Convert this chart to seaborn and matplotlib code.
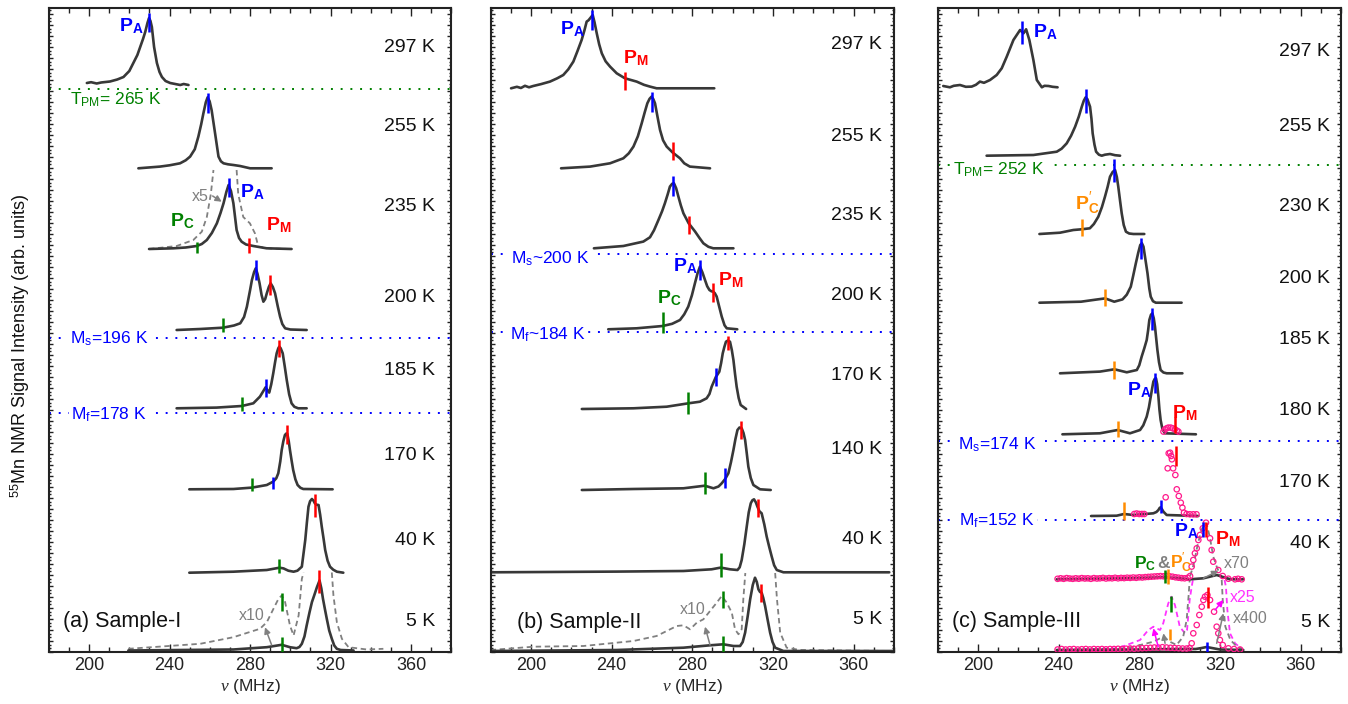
import numpy as np
import matplotlib
matplotlib.use("Agg")
import matplotlib.pyplot as plt
from matplotlib.ticker import MultipleLocator, AutoMinorLocator
import seaborn as sns

sns.set_style("ticks")
plt.rcParams["font.family"] = ["Liberation Sans", "DejaVu Sans"]
plt.rcParams["mathtext.fontset"] = "custom"
plt.rcParams["mathtext.rm"] = "Liberation Sans"
plt.rcParams["mathtext.bf"] = "Liberation Sans:bold"
plt.rcParams["mathtext.it"] = "Liberation Serif:italic"

CURVE = "#383838"
COL = {"b": "#0000ff", "g": "#008000", "r": "#ff0000", "o": "#ff8c00",
       "k": "#808080", "m": "#ff33ff", "p": "#ff1a8c"}

# ---------------- panel (a) Sample-I ----------------
A_TEMPS = ["297 K", "255 K", "235 K", "200 K", "185 K", "170 K", "40 K", "5 K"]
A_TEMP_Y = [604.7, 525.3, 445.3, 354.3, 281.3, 197, 111.3, 30.3]
A_BASE = [567, 483.7, 403, 322, 243.7, 162.7, 79.3, 1.5]

A297_F = [198.9, 201, 203.8, 206, 210.4, 214, 217.1, 220, 222.0, 224, 225.4, 226.8, 227.9, 229, 229.8, 230.5, 231.2, 232.3, 233.7, 235, 236.2, 238, 240.3, 245.3, 247, 249.4]
A297_I = [2, 2.8, 1.5, 2.5, 3.5, 5.5, 8, 14, 22, 30, 38, 46, 53, 62, 67, 64, 58, 38, 22, 13, 8, 4, 2, 0, 1, 0]
A255_F = [224.5, 235.2, 240, 245.2, 248, 250.2, 252.5, 254.3, 255.7, 256.8, 258, 258.9, 259.9, 260.9, 262.6, 264.3, 265.5, 266.8, 269, 271.7, 275.0, 280, 290.7]
A255_I = [0, 1.7, 3, 5, 8, 11.7, 19, 31.7, 44, 55, 66, 71, 67, 58, 35, 11.7, 7, 5, 4, 3.3, 2.3, 0, 0]
A235_F = [229.8, 241.9, 248, 253.5, 256, 258.5, 261, 263.5, 265.3, 266.8, 268.2, 269.3, 270.5, 271.7, 273.3, 274.5, 275.8, 278, 281.6, 288.2, 300.6]
A235_I = [0, 0.7, 1.5, 3, 5, 9, 16, 25.7, 36, 45.7, 57, 64, 58, 45.7, 19, 11, 7.3, 4.5, 3, 0.7, 0]
A200_F = [243.5, 255.2, 266.5, 272, 275.1, 277, 278.4, 280, 280.9, 282, 282.8, 283.7, 284.7, 285.7, 286.6, 287.5, 288.3, 289.3, 290.2, 291.3, 292.4, 293.7, 294.9, 296, 297.4, 300, 308.1]
A200_I = [0, 1, 2.3, 4.5, 6.7, 13, 23.3, 40, 50, 58, 61.7, 56, 46.7, 35, 28.3, 31, 36.7, 43, 46.7, 43, 36.7, 24, 13.3, 6, 1.7, 0.5, 0]
A185_F = [243.5, 263.3, 275.9, 281.6, 284.9, 286.5, 287.7, 288.6, 289.5, 290.5, 291.5, 292.4, 293.2, 294, 294.5, 295.2, 296.2, 297.2, 298.2, 299.4, 300.6, 302, 303.9, 308.1]
A185_I = [0, 0.7, 2.3, 5, 11.7, 17, 21, 18, 15.7, 24, 35, 46, 55, 60, 61.7, 60, 55, 42, 28.3, 14, 5, 1.5, 0, 0]
A170_F = [249.8, 271.7, 281, 288.3, 291.5, 293, 294, 295, 295.7, 296.5, 297.3, 298, 298.5, 299.2, 299.8, 300.6, 301.4, 302.5, 303.6, 305, 306.4, 321]
A170_I = [0, 0.3, 1.7, 4.3, 7.7, 11, 16, 28, 39.3, 48, 54.3, 55.8, 55.3, 48, 39.3, 29, 19.3, 10, 4.3, 1.5, 0.3, 0]
A40_F = [249.8, 271.7, 288.3, 294.6, 296.6, 299, 301.6, 303.5, 305.7, 307.4, 308.2, 309, 309.8, 310.7, 311.5, 312.2, 313, 314, 314.8, 315.6, 316.5, 317.3, 318.5, 319.7, 321.3, 323.1, 326.3]
A40_I = [0, 1, 2.7, 5, 4.3, 2, 1, 2, 6, 32.7, 50, 66, 71.5, 73.7, 72, 69.3, 68, 67.7, 58, 46, 34, 22.7, 12, 6, 3, 1, 0]
A5_F = [219.5, 271.7, 288.3, 295.7, 299.8, 303.1, 304.5, 305.7, 307, 308.1, 309.5, 310.7, 312, 313.2, 314.5, 315.4, 316.2, 317.2, 318.1, 319.3, 320.6, 321.8, 323.1, 325, 331.4]
A5_I = [0, 1, 3.3, 5.7, 3.3, 2.3, 3.5, 6.7, 14, 25, 38, 48.3, 56, 63.3, 70, 62, 51.7, 41, 31.7, 20, 11.7, 5, 1.7, 0.5, 0]
# magnified (dashed) traces
A235X5_LF = [229.8, 243.5, 251.8, 256, 258.5, 260.5, 261.8]
A235X5_LI = [0, 3, 9, 17.3, 32, 55, 79]
A235X5_RF = [273.3, 274.1, 276.6, 279.9, 282.4, 284.1, 290, 300.6]
A235X5_RI = [79, 55, 32, 25.7, 15.7, 2.3, 0.5, 0]
A5X10_LF = [219.5, 255.2, 271.7, 284.9, 288.3, 291.6, 294.1, 295.7, 297.4, 299.8, 301.6, 304.1, 305.7, 306.6]
A5X10_LI = [1.7, 6.7, 13.3, 21.7, 28.3, 41.7, 51.7, 55, 48.3, 25, 15, 35, 71.7, 78]
A5X10_RF = [320.6, 321.4, 323.1, 325.6, 328.9, 338, 346.2]
A5X10_RI = [78, 55, 28.3, 11.7, 3.3, 1, 1.7]

A_MK_F = [229.8, 258.9, 269.3, 253.6, 279.3, 282.8, 290.0, 266.3, 294.5, 287.7, 275.9, 298.1, 291.4, 281, 312.2, 294.5, 314.3, 295.7, 295.7]
A_MK_Y = [629.8, 549.3, 464.8, 404.8, 406.5, 382, 367, 327, 303.7, 264, 248, 217.5, 168.7, 167.3, 146.7, 85.7, 70.3, 7.5, 50]
A_MK_H = [9.5, 10, 9.5, 5.5, 7.2, 10, 10, 6.7, 8.3, 8.7, 6.7, 9.5, 6, 6.7, 11.3, 7, 11.7, 7.2, 8.7]
A_MK_C = ["b", "b", "b", "g", "r", "b", "r", "g", "r", "b", "g", "r", "b", "g", "r", "g", "r", "g", "g"]

A_LINE_Y = [562.7, 314.3, 239.3]
A_LINE_C = ["g", "b", "b"]
A_LINE_TXT = [r"T$_\mathrm{PM}$= 265 K", r"M$_\mathrm{s}$=196 K", r"M$_\mathrm{f}$=178 K"]
A_LINE_TX = [190.5, 190.5, 191]
A_LINE_TY = [547, 308, 232]

A_LAB_TXT = [r"$\mathbf{P}_\mathbf{A}$", r"$\mathbf{P}_\mathbf{A}$", r"$\mathbf{P}_\mathbf{M}$", r"$\mathbf{P}_\mathbf{C}$"]
A_LAB_X = [214.9, 275, 288, 240.3]
A_LAB_Y = [621, 455, 422, 426]
A_LAB_C = ["b", "b", "r", "g"]
A_LAB_S = [14, 14, 14, 14]

# ---------------- panel (b) Sample-II ----------------
B_TEMPS = ["297 K", "255 K", "235 K", "200 K", "170 K", "140 K", "40 K", "5 K"]
B_TEMP_Y = [607.7, 515.3, 437, 357, 277, 202, 113, 32.7]
B_BASE = [563.7, 483.7, 403.7, 322.7, 243, 162, 79.7, 1]

B297_F = [190.1, 193, 195, 197, 199, 201.1, 205, 209.4, 213, 216, 218.5, 221, 223, 225.1, 226.5, 227.6, 228.5, 229.3, 230.6, 231.5, 232.6, 233.8, 235.1, 237, 239.2, 242.5, 246.6, 252.4, 256, 259, 262.3, 290.9]
B297_I = [0, 1.5, 0.3, 2.5, 1, 2.3, 4.2, 6.7, 10, 13.3, 19, 26.7, 37, 48.3, 58, 66.7, 68, 70, 73.3, 66, 55, 44, 35, 27, 21.7, 15, 10, 6.7, 3.5, 1.7, 0, 0]
B255_F = [214.9, 229.3, 239.2, 245.8, 248.5, 250.8, 253, 254.9, 256.4, 257.7, 258.8, 259.8, 260.7, 261.5, 262.7, 264, 265.5, 267.3, 270.3, 273.9, 276, 278.8, 288.8]
B255_I = [0, 1.7, 5, 10, 15, 21.7, 32, 45, 56, 65, 69.5, 71.7, 69, 65, 52, 38.3, 28, 21.7, 15.7, 10, 5, 1.7, 0]
B235_F = [231.2, 245.8, 255.7, 259, 261, 263.2, 265, 266.4, 267.8, 268.9, 270, 270.9, 272, 273.1, 274.3, 275.6, 278.2, 281.4, 283.5, 285.5, 288, 290.4, 300.4]
B235_I = [0, 2.3, 6.7, 11, 18, 28.3, 37, 45, 54, 61.7, 64.5, 65, 60, 51.7, 43, 35, 25, 16.7, 10.5, 5, 1.5, 0, 0]
B200_F = [238.3, 252.4, 265.3, 270, 273.9, 276, 278, 279.8, 281.3, 282.6, 283.8, 285, 286.3, 287.4, 288.5, 289.5, 290.4, 291.2, 292.1, 293.3, 294.6, 296, 297.1, 302.3]
B200_I = [0, 1, 3.3, 5.5, 9.3, 15, 22.7, 34, 46, 56, 62.7, 57, 49.3, 43, 39.3, 38, 37.7, 36, 32.7, 23, 12.7, 4, 1, 0]
B170_F = [225.2, 250.8, 267.3, 278.1, 283.8, 287.1, 288.5, 289.6, 290.6, 291.6, 292.5, 293.4, 294.3, 295.1, 295.9, 296.7, 297.7, 298.7, 299.6, 300.4, 301.2, 302, 303, 304, 306.7]
B170_I = [0, 0.7, 2.3, 5.7, 7.3, 10.7, 15, 22.3, 27, 31.7, 34.5, 37.3, 46, 55.7, 62, 67.3, 68.5, 67.3, 59, 49, 35, 22.3, 11, 4, 0]
B140_F = [225.2, 250.8, 275.6, 286.2, 290.5, 293, 294.6, 296.3, 297.9, 299.2, 300.4, 301.4, 302.4, 303.4, 304.5, 305.4, 306.2, 307, 307.8, 309, 310.3, 313.6, 318.9]
B140_I = [0, 1, 1.7, 4.3, 1.7, 3.5, 6.7, 11, 16.7, 28, 40, 51, 60, 62.5, 61.7, 57, 50, 37, 23.3, 12, 5, 0.7, 0]
B40_F = [180, 242.5, 275.6, 289.6, 294.1, 298.7, 302.4, 303.5, 304.5, 305.8, 307, 308, 309, 309.8, 310.6, 311.5, 312.3, 313.3, 314.4, 315.7, 316.9, 318.2, 319.4, 320.6, 321.9, 325.2, 377.7]
B40_I = [0, 0.7, 1.3, 3, 4.7, 3, 2.3, 5, 12.3, 28, 45.7, 60, 69, 72, 73, 70, 65.7, 61, 59, 48, 35.7, 25, 15.7, 7, 2.3, 0, 0]
B5_F = [180, 242.5, 275.6, 288.8, 295.4, 300.4, 303.7, 305, 306.2, 307.5, 308.7, 310, 311.1, 312, 312.8, 313.6, 314.4, 315.2, 316.1, 317.3, 318.6, 319.8, 321.1, 325.2, 379.7]
B5_I = [0, 1, 3.3, 5.7, 6.7, 5, 5, 9, 18.3, 35, 51.7, 66, 73.3, 69, 61.7, 59, 58.3, 53, 45, 32, 18.3, 9, 3.3, 0, 0]
B5X10_LF = [180, 201.2, 226, 250.8, 262.3, 272.3, 275.6, 278.9, 282.2, 285.5, 288.8, 292.1, 294.6, 297.1, 299.6, 301.2, 302.9, 304.5, 305.3, 306.3]
B5X10_LI = [1, 4.3, 5, 10, 15, 25, 25.7, 21.7, 28.3, 31.7, 40, 48.3, 55, 48.3, 38.3, 21.7, 16.7, 21.7, 51.7, 78]
B5X10_RF = [321.1, 322, 323.6, 326.8, 333.4, 379.7]
B5X10_RI = [78, 51.7, 18.3, 3.3, 1, 0]

B_MK_F = [230.2, 246.4, 259.8, 270.3, 270.3, 278.2, 283.8, 290.4, 265.3, 297.8, 291.6, 278.1, 304.1, 296.2, 286.2, 312.4, 294.1, 314, 295.1, 295.1]
B_MK_Y = [632, 571.5, 550.3, 501.2, 466, 427, 382, 359.5, 329.2, 309, 275, 249.2, 222, 174, 168.7, 143.7, 87, 59.2, 8.2, 52.5]
B_MK_H = [10, 9, 10, 9.2, 10, 9, 10, 9.2, 10.5, 6.7, 8.8, 11.2, 9.2, 10.3, 11, 9, 11.7, 8.8, 7.8, 8.8]
B_MK_C = ["b", "r", "b", "r", "b", "r", "b", "r", "g", "r", "b", "g", "r", "b", "g", "r", "g", "r", "g", "g"]

B_LINE_Y = [397.7, 319.7]
B_LINE_C = ["b", "b"]
B_LINE_TXT = [r"M$_\mathrm{s}$~200 K", r"M$_\mathrm{f}$~184 K"]
B_LINE_TX = [190.1, 189.6]
B_LINE_TY = [388.7, 312.7]

B_LAB_TXT = [r"$\mathbf{P}_\mathbf{A}$", r"$\mathbf{P}_\mathbf{M}$", r"$\mathbf{P}_\mathbf{A}$", r"$\mathbf{P}_\mathbf{M}$", r"$\mathbf{P}_\mathbf{C}$"]
B_LAB_X = [214.4, 245.8, 270.3, 292.9, 262.3]
B_LAB_Y = [617.7, 588.7, 380.3, 367, 348.7]
B_LAB_C = ["b", "r", "b", "r", "g"]
B_LAB_S = [14, 14, 14, 14, 14]

# ---------------- panel (c) Sample-III ----------------
C_TEMPS = ["297 K", "255 K", "230 K", "200 K", "185 K", "180 K", "170 K", "40 K", "5 K"]
C_TEMP_Y = [600.3, 526, 445.3, 373.7, 313, 241.3, 169.3, 108, 29.3]
C_BASE = [564.7, 496.3, 418, 349.3, 278.7, 217.7, 136, 72.7, 2]

C297_F = [182.8, 186.1, 188, 191.1, 194, 196.9, 199, 201, 203, 206, 209.3, 211.8, 214.3, 217.6, 220.9, 222.6, 223.9, 225.5, 227.5, 229.2, 231.7, 233, 235, 237, 239.5]
C297_I = [1.3, 0, 1.5, 2.3, 0.5, 0.7, 2.5, 5.7, 4.5, 7.3, 12.3, 19, 30.7, 47.3, 57.3, 54, 58, 47.3, 27.3, 7.3, 0, 1.5, 1.3, 0.5, 0]
C255_F = [204.3, 227.5, 239.1, 241.5, 244, 246.2, 248.2, 250, 251.5, 252.5, 253.4, 254.3, 255.6, 256.3, 256.9, 257.8, 258.6, 260, 261.4, 263, 265.5, 268, 270.5]
C255_I = [0, 0.7, 4, 7, 12.3, 20, 29, 39, 49, 55, 58.3, 56.5, 49, 37, 22.3, 11, 4, 1, 0, 1, 1.7, 0.5, 0]
C230_F = [230.5, 240.7, 247.3, 251.4, 255.5, 257.5, 259.7, 261.5, 263, 264.3, 265.5, 266.8, 268, 268.9, 269.6, 270.5, 271.3, 272.3, 273.4, 275, 277.1, 282.5]
C230_I = [0, 1.3, 4, 4.7, 5.7, 10, 17.3, 27, 37.3, 47, 57.3, 62, 64, 57, 47.3, 33, 20.7, 9, 2.3, 0.5, 0, 0]
C200_F = [230.5, 251.1, 259.3, 263.1, 267.6, 271.7, 273.8, 275.8, 277, 278.3, 279.5, 280.5, 281.3, 282.1, 283, 284.1, 285, 285.7, 286.8, 288.2, 301]
C200_I = [0, 1, 3.3, 4.3, 1, 3.3, 8, 16, 27, 39.3, 50, 57.7, 59.5, 56, 44, 29.3, 14, 6, 1.5, 0, 0]
C185_F = [240.7, 260.5, 267.7, 273.8, 278.8, 280, 281.2, 282.5, 283.7, 284.4, 285, 285.8, 286.5, 287.2, 287.8, 288.4, 289, 289.8, 290.6, 292, 293.6, 301.4]
C185_I = [0, 1.7, 4, 1, 3.3, 8, 16.7, 25, 33.3, 43, 53.3, 58.5, 60, 55, 46.7, 35, 23.3, 11, 3.3, 0.8, 0, 0]
C180_F = [241.9, 260.5, 269.3, 275.4, 280.4, 282, 283.7, 284.8, 285.7, 286.4, 287, 287.7, 288.3, 288.9, 289.5, 290, 290.6, 291.5, 292.7, 308.1]
C180_I = [0, 1, 4.3, 1, 4.3, 9, 17.7, 27, 37.7, 46, 52.7, 55.5, 56, 50, 37.7, 25, 14.3, 5, 1, 0]
C170_F = [256.1, 268.8, 272.4, 277.1, 287, 288.5, 289.5, 290.1, 290.6, 291.2, 292, 293.6, 309.3]
C170_I = [0, 0.3, 2, 1, 2.7, 4, 6, 8, 8.7, 7, 4.3, 1, 0]
C40_F = [239.1, 275, 291.9, 298.6, 305.1, 311.8, 318.4, 320.9, 325, 331.6]
C40_I = [0, 1, 2, 1.3, 0, 1, 4.3, 2.7, 0, 0]
C5_F = [239.1, 280, 300, 308, 311, 313.4, 316, 320, 331.6]
C5_I = [0, 0.5, 1, 1, 2, 3, 2, 0.5, 0]
# magnified traces (x70 at 40 K, x25 and x400 at 5 K)
C40X70_F = [239.1, 290, 297, 304, 305.2, 307, 309, 311, 312.5, 313.5, 315.1, 316.7, 318.4, 320, 321, 331.6]
C40X70_I = [0, 2, 2, 0, 3, 15, 35, 50, 56, 55, 41, 22.7, 12.7, 5, 1, 0]
C5X25_LF = [239.1, 268.9, 273.8, 280.4, 284.5, 287, 290.3, 291.9, 294.4, 296, 297.7, 300.1, 302.6, 303.7, 305, 306, 306.6]
C5X25_LI = [0, 1.7, 5, 10, 20, 23.3, 20, 26.7, 46.7, 53.3, 45, 23.3, 16.7, 20, 50, 63.3, 70]
C5X25_RF = [322.3, 323, 323.7, 325, 327.5, 331.6]
C5X25_RI = [70, 63, 40, 16.7, 6.7, 0]
C5X400_LF = [239.1, 270, 277.1, 287, 291.9, 295.2, 298.5, 301.8, 303.5, 304.5, 305]
C5X400_LI = [0, 1, 3.3, 8.3, 13.3, 8.3, 5, 13.3, 30, 55, 70]
C5X400_RF = [320.9, 321.4, 322.7, 325.2, 328.5, 331.6]
C5X400_RI = [70, 50, 23.3, 10, 3.3, 0]
# open circles
C180_CF = [292, 292.8, 293.6, 294.4, 295.6, 296.6, 297.7, 298.6, 299.4]
C180_CI = [2.7, 5, 6, 6.7, 6.7, 6, 5, 3.7, 2.7]
C170_CF = [277.5, 278.7, 280, 281.3, 282.5, 293.1, 294.1, 294.6, 295.3, 295.8, 296.2, 296.8, 297.9, 298.6, 299.6, 300.6, 301.4, 302.2, 303.5, 305.1, 306.8, 308.4]
C170_CI = [2, 2.5, 2, 2, 2, 18.7, 47.7, 62.7, 63.3, 60, 56.7, 47.7, 41, 26.7, 20, 13.3, 8.3, 3.3, 2, 1.7, 1.7, 1.7]
C40_CF = [239.5, 241, 242.5, 244, 245.5, 247, 248.5, 250, 251.5, 253, 254.5, 256, 257.5, 259, 260.5, 262,
          263.5, 265, 266.5, 268, 269.5, 271, 272.5, 274, 275.5, 277, 278.5, 280, 281.5, 283, 284.5, 286,
          287.5, 289, 290.5, 292, 293.5, 295, 296.5, 298, 299.5, 301, 302.5, 304,
          305.2, 306, 306.8, 307.6, 308.5, 309.3, 310.1, 311.5, 313.1, 315.1, 315.9, 316.7, 319.2, 321.4,
          324.2, 327.5, 329, 330.8]
C40_CI = [0.5, 1, 0.5, 1.2, 0.8, 0.5, 1, 0.6, 1.2, 0.8, 1, 0.5, 1.2, 0.8, 1, 1.4,
          0.8, 1.2, 1, 1.5, 1, 1.4, 1.2, 1.6, 1.4, 1.8, 1.5, 2, 1.8, 2.2, 2.4, 2.6,
          2.8, 3, 3.2, 3, 3.4, 3, 2.6, 2, 1.6, 1.2, 1, 1.5,
          3.3, 12.7, 19.3, 26, 31, 39.3, 44.3, 51, 56.6, 41, 29.3, 17.6, 9.3, 3.3,
          0.6, 0, 0.5, 0]
C5_CF = [239.5, 241.5, 243.5, 245.5, 247.5, 249.5, 251.5, 253.5, 255.5, 257.5, 259.5, 261.5, 263.5, 265.5,
         267.5, 269.5, 271.5, 273.5, 275.5, 277.5, 279.5, 281.5, 283.5, 285.5, 287.5, 289.5, 291.5, 293.5,
         295.5, 297.5, 299.5, 301.5, 303.5, 305,
         306, 306.8, 308.5, 309.8, 311, 311.8, 312.6, 313.8, 315.1, 317.1, 318.4, 319.2, 320, 321.4,
         324.2, 327, 330]
C5_CI = [0.5, 1, 0.5, 0.8, 1, 0.5, 0.8, 1, 0.6, 1, 0.8, 1, 0.7, 1,
         1, 1.2, 1, 1.3, 1.5, 1.2, 1.6, 1.8, 2, 2.2, 2.5, 2.4, 2.8, 2.5,
         2.2, 2, 1.8, 1.5, 1.5, 2,
         6.7, 16.7, 25, 35, 43.3, 50, 53.3, 55, 50, 38.3, 23.3, 16.7, 10, 5,
         1.7, 1, 0.5]

C_MK_F = [221.9, 253.4, 267.3, 251.4, 281, 263, 286.2, 267.7, 287.8, 269.3, 297.5, 272.4, 290.6, 298.2, 311.5, 313.1, 292.8, 294.5, 314.3, 295.6, 295.3, 313.4]
C_MK_Y = [619.5, 551, 481.5, 424.7, 403.2, 354.5, 333, 282, 269, 222.8, 226.7, 141.2, 145.3, 196, 122.8, 122.8, 75.3, 75.2, 54.5, 48.2, 17.5, 4.5]
C_MK_H = [11.8, 11.7, 11.2, 8.3, 10.5, 8.5, 11, 9, 10, 8.2, 8, 9.2, 6.7, 10, 7.5, 7.5, 6.7, 7.5, 10.8, 7.8, 5.5, 5.8]
C_MK_C = ["b", "b", "b", "o", "b", "o", "b", "o", "b", "o", "r", "o", "b", "r", "b", "r", "g", "o", "r", "g", "o", "b"]

C_LINE_Y = [487.3, 211.3, 132]
C_LINE_C = ["g", "b", "b"]
C_LINE_TXT = [r"T$_\mathrm{PM}$= 252 K", r"M$_\mathrm{s}$=174 K", r"M$_\mathrm{f}$=152 K"]
C_LINE_TX = [187.8, 190, 190.8]
C_LINE_TY = [477, 202.7, 126]

C_LAB_TXT = [r"$\mathbf{P}_\mathbf{A}$", r"$\mathbf{P}_\mathbf{C}^{\prime}$", r"$\mathbf{P}_\mathbf{A}$", r"$\mathbf{P}_\mathbf{M}$",
             r"$\mathbf{P}_\mathbf{A}$", r"$\mathbf{P}_\mathbf{M}$", r"$\mathbf{P}_\mathbf{C}$", r"$\mathbf{&}$", r"$\mathbf{P}_\mathbf{C}^{\prime}$"]
C_LAB_X = [227.5, 248.1, 273.8, 296.1, 297.2, 317.6, 277.6, 288.9, 295.4]
C_LAB_Y = [614.7, 442, 257, 233.7, 115.3, 108, 83.7, 83.7, 83.7]
C_LAB_C = ["b", "o", "b", "r", "b", "r", "g", "k", "o"]
C_LAB_S = [14, 14, 14, 14, 14, 14, 12.5, 12.5, 12.5]


def curve(ax, f, inten, base, color=CURVE, lw=1.9, ls="-"):
    y = np.asarray(inten, dtype=float) + base
    sns.lineplot(x=f, y=y, ax=ax, sort=False, estimator=None, color=color,
                 linewidth=lw, linestyle=ls, legend=False, solid_joinstyle="round")


def dashed(ax, f, inten, base, color):
    y = np.asarray(inten, dtype=float) + base
    sns.lineplot(x=f, y=y, ax=ax, sort=False, estimator=None, color=color,
                 linewidth=1.3, linestyle=(0, (3, 2)), legend=False)


def circles(ax, f, inten, base):
    y = np.asarray(inten, dtype=float) + base
    sns.scatterplot(x=f, y=y, ax=ax, marker="o", s=15, facecolor="none",
                    edgecolor=COL["p"], linewidth=0.9, legend=False, zorder=4)


def setup(ax, temps, temp_y, temp_x, sample):
    ax.set_xlim(180, 380)
    ax.set_ylim(0, 644)
    ax.xaxis.set_minor_locator(MultipleLocator(10))
    ax.set_xticks([200, 240, 280, 320, 360])
    ax.yaxis.set_major_locator(MultipleLocator(11))
    ax.yaxis.set_minor_locator(AutoMinorLocator(3))
    ax.tick_params(axis="both", which="both", direction="in", top=True, right=True,
                   labelleft=False, width=1.0, colors="#222222", labelsize=13)
    ax.tick_params(axis="x", which="major", length=6)
    ax.tick_params(axis="x", which="minor", length=3.5)
    ax.tick_params(axis="y", which="major", length=3)
    ax.tick_params(axis="y", which="minor", length=1.5)
    for s in ax.spines.values():
        s.set_linewidth(1.5)
        s.set_color("#222222")
    ax.set_xlabel(r"$\nu$ (MHz)", fontsize=12.5, labelpad=2)
    ax.set_ylabel("")
    for t, ty in zip(temps, temp_y):
        ax.text(temp_x, ty, t, ha="right", va="center", fontsize=14, color="#111111")
    ax.text(sample[1], sample[2], sample[0], ha="left", va="baseline", fontsize=15.5, color="#111111")


def markers(ax, mf, my, mh, mc):
    for f, y, h, c in zip(mf, my, mh, mc):
        ax.vlines(f, y - h, y + h, color=COL[c], linewidth=1.8, zorder=5)


def level_lines(ax, ly, lc, txt, tx, ty, boxed):
    for y, c, t, x, yy, b in zip(ly, lc, txt, tx, ty, boxed):
        ax.axhline(y, color=COL[c], linestyle=(0, (1, 4)), linewidth=1.4, zorder=1)
        kw = dict(bbox=dict(fc="white", ec="none", pad=1.5)) if b else {}
        ax.text(x, yy, t, color=COL[c], fontsize=12.5, ha="left", va="baseline", zorder=3, **kw)


def peak_labels(ax, txt, lx, ly, lc, ls):
    for t, x, y, c, s in zip(txt, lx, ly, lc, ls):
        ax.text(x, y, t, color=COL[c], fontsize=s, ha="left", va="baseline", zorder=6)


def arrow(ax, start, end, color):
    ax.annotate("", xy=end, xytext=start,
                arrowprops=dict(arrowstyle="-|>", color=color, lw=1.1, mutation_scale=9,
                                shrinkA=0, shrinkB=0), zorder=6)


fig = plt.figure(figsize=(13.48, 7.04), dpi=100)
ax_a = fig.add_axes([48.8 / 1348, 52 / 704, 402.6 / 1348, 644 / 704])
ax_b = fig.add_axes([490.7 / 1348, 52 / 704, 403.2 / 1348, 644 / 704])
ax_c = fig.add_axes([937.6 / 1348, 52 / 704, 403.3 / 1348, 644 / 704])

# ---- (a)
ax = ax_a
level_lines(ax, A_LINE_Y, A_LINE_C, A_LINE_TXT, A_LINE_TX, A_LINE_TY, [False, True, True])
dashed(ax, A235X5_LF, A235X5_LI, A_BASE[2], COL["k"])
dashed(ax, A235X5_RF, A235X5_RI, A_BASE[2], COL["k"])
dashed(ax, A5X10_LF, A5X10_LI, A_BASE[7], COL["k"])
dashed(ax, A5X10_RF, A5X10_RI, A_BASE[7], COL["k"])
for f, i, b in zip([A297_F, A255_F, A235_F, A200_F, A185_F, A170_F, A40_F, A5_F],
                   [A297_I, A255_I, A235_I, A200_I, A185_I, A170_I, A40_I, A5_I], A_BASE):
    curve(ax, f, i, b)
markers(ax, A_MK_F, A_MK_Y, A_MK_H, A_MK_C)
peak_labels(ax, A_LAB_TXT, A_LAB_X, A_LAB_Y, A_LAB_C, A_LAB_S)
ax.text(251.2, 456, "x5", color=COL["k"], fontsize=11.5, va="center")
ax.text(274.5, 36, "x10", color=COL["k"], fontsize=11.5, va="center")
arrow(ax, (261.4, 456), (265.9, 450.3), COL["k"])
arrow(ax, (290.7, 7), (287.4, 24.7), COL["k"])
setup(ax, A_TEMPS, A_TEMP_Y, 371.9, ("(a) Sample-I", 187.1, 25))

# ---- (b)
ax = ax_b
level_lines(ax, B_LINE_Y, B_LINE_C, B_LINE_TXT, B_LINE_TX, B_LINE_TY, [True, True])
dashed(ax, B5X10_LF, B5X10_LI, B_BASE[7], COL["k"])
dashed(ax, B5X10_RF, B5X10_RI, B_BASE[7], COL["k"])
for f, i, b in zip([B297_F, B255_F, B235_F, B200_F, B170_F, B140_F, B40_F, B5_F],
                   [B297_I, B255_I, B235_I, B200_I, B170_I, B140_I, B40_I, B5_I], B_BASE):
    curve(ax, f, i, b)
markers(ax, B_MK_F, B_MK_Y, B_MK_H, B_MK_C)
peak_labels(ax, B_LAB_TXT, B_LAB_X, B_LAB_Y, B_LAB_C, B_LAB_S)
ax.text(273.6, 42, "x10", color=COL["k"], fontsize=11.5, va="center")
arrow(ax, (288.8, 7), (286.3, 25.3), COL["k"])
setup(ax, B_TEMPS, B_TEMP_Y, 374.1, ("(b) Sample-II", 192.9, 23.7))

# ---- (c)
ax = ax_c
level_lines(ax, C_LINE_Y, C_LINE_C, C_LINE_TXT, C_LINE_TX, C_LINE_TY, [True, True, True])
dashed(ax, C40X70_F, C40X70_I, C_BASE[7], COL["k"])
dashed(ax, C5X25_LF, C5X25_LI, C_BASE[8], COL["m"])
dashed(ax, C5X25_RF, C5X25_RI, C_BASE[8], COL["m"])
dashed(ax, C5X400_LF, C5X400_LI, C_BASE[8], COL["k"])
dashed(ax, C5X400_RF, C5X400_RI, C_BASE[8], COL["k"])
for f, i, b in zip([C297_F, C255_F, C230_F, C200_F, C185_F, C180_F, C170_F, C40_F, C5_F],
                   [C297_I, C255_I, C230_I, C200_I, C185_I, C180_I, C170_I, C40_I, C5_I], C_BASE):
    curve(ax, f, i, b)
circles(ax, C180_CF, C180_CI, C_BASE[5])
circles(ax, C170_CF, C170_CI, C_BASE[6])
circles(ax, C40_CF, C40_CI, C_BASE[7])
circles(ax, C5_CF, C5_CI, C_BASE[8])
markers(ax, C_MK_F, C_MK_Y, C_MK_H, C_MK_C)
peak_labels(ax, C_LAB_TXT, C_LAB_X, C_LAB_Y, C_LAB_C, C_LAB_S)
ax.text(321.7, 88, "x70", color=COL["k"], fontsize=11.5, va="center")
ax.text(325, 54.3, "x25", color=COL["m"], fontsize=11.5, va="center")
ax.text(326.6, 33.7, "x400", color=COL["k"], fontsize=11.5, va="center")
arrow(ax, (311.8, 73.7), (319.2, 81.3), COL["k"])
arrow(ax, (317.6, 42), (321.7, 52), "#ff00ff")
arrow(ax, (318.4, 8.7), (321.7, 38.7), COL["k"])
arrow(ax, (289.4, 5.3), (287, 23.7), "#ff00ff")
arrow(ax, (292.8, 8.7), (292, 18.7), COL["k"])
setup(ax, C_TEMPS, C_TEMP_Y, 374.6, ("(c) Sample-III", 187, 25.3))

fig.text(20 / 1348, 1 - 346 / 704, r"$^{55}$Mn NMR Signal Intensity (arb. units)",
         rotation=90, ha="center", va="center", fontsize=13, color="#111111")

fig.savefig("out.png", dpi=100)
